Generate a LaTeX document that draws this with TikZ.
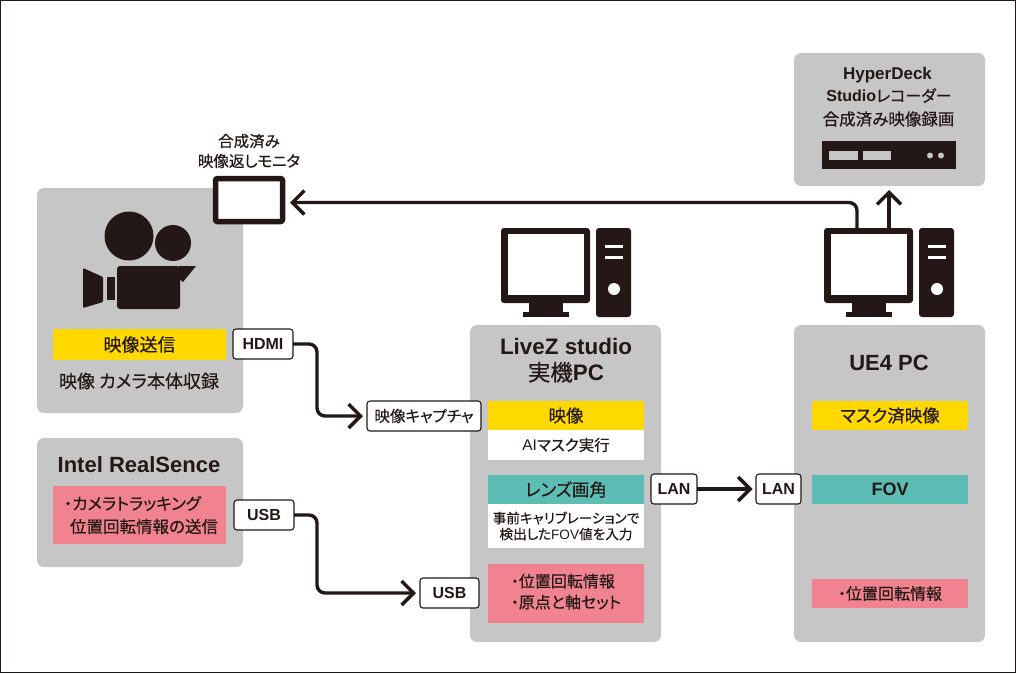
\documentclass[tikz,border=0pt]{standalone}
\usepackage{fontspec}
\usetikzlibrary{arrows.meta}
\setmainfont{Noto Sans CJK JP}[FakeBold=0.35,RawFeature=+palt]
\newfontfamily\latfont{Liberation Sans}
\newfontfamily\latbold{Liberation Sans Bold}
\newfontfamily\jpbold{Noto Sans CJK JP}[FakeBold=0.8,RawFeature=+palt]
\newcommand{\lat}[1]{{\latfont #1}}
\newcommand{\latb}[1]{{\latbold #1}}
\definecolor{ink}{HTML}{231815}
\definecolor{panelgray}{HTML}{C6C6C6}
\definecolor{yel}{HTML}{FFD800}
\definecolor{teal2}{HTML}{5CBDB5}
\definecolor{pink2}{HTML}{F0838F}
\tikzset{
  x=1pt,y=-1pt,
  every node/.style={text=ink,inner sep=0pt,outer sep=0pt,align=center},
  panel/.style={fill=panelgray,rounded corners=7pt},
  tag/.style={draw=ink,line width=1.1pt,fill=white,rounded corners=3pt,font=\fontsize{16}{18}\selectfont},
  ink fill/.style={fill=ink,draw=none},
  conn/.style={draw=ink,line width=3.4pt,rounded corners=8pt,-{Straight Barb[length=12pt,width=24pt,line width=3.4pt]}},
}
\newcommand{\bx}[7]{% name, x0,y0,x1,y1, style, text
  \node[#6,minimum width={(#4)-(#2)},minimum height={(#5)-(#3)}] (#1) at ({((#2)+(#4))/2},{((#3)+(#5))/2}) {#7};}
\newcommand{\pcicon}[2]{% name prefix, x offset
  \begin{scope}[xshift=#2]
    \node[ink fill,rounded corners=3pt,minimum width=89pt,minimum height=75pt] (#1mon) at (868.5,265.5) {};
    \node[fill=white,minimum width=76pt,minimum height=61pt] (#1scr) at (869,264.5) {};
    \fill[ink] (852,302) rectangle (886,313);
    \fill[ink] (846,312) rectangle (892,317);
    \node[ink fill,rounded corners=3pt,minimum width=35pt,minimum height=89pt] (#1tow) at (936.5,272.5) {};
    \fill[white] (928,244.5) rectangle (946,248);
    \fill[white] (928,255.5) rectangle (946,259);
    \fill[white] (937,289) circle (6);
  \end{scope}}
\begin{document}
\begin{tikzpicture}
\useasboundingbox (0,0) rectangle (1016,673);
\fill[white] (0,0) rectangle (1016,673);
\draw[ink,line width=1.2pt] (0.5,0.5) rectangle (1015.5,672.5);

% panels
\bx{camP}{37}{188}{243}{413}{panel}{}
\bx{intP}{37}{438}{243}{567}{panel}{}
\bx{livP}{470}{325}{661}{642}{panel}{}
\bx{ue4P}{794}{325}{985}{642}{panel}{}
\bx{hypP}{794}{53}{985}{186}{panel}{}

% camera
\fill[ink] (129,236) circle (24.5);
\fill[ink] (173,243) circle (18);
\fill[ink,rounded corners=3pt] (117,266) rectangle (180,309);
\fill[ink] (107,277) rectangle (115,300);
\fill[ink,rounded corners=1pt] (83,268) -- (103,277) -- (103,302) -- (83,308) -- cycle;
\fill[ink] (179,266) -- (196,266) -- (183,282) -- (179,279) -- cycle;
\bx{camY}{53}{329}{226}{360}{fill=yel,font=\fontsize{18}{20}\selectfont}{映像送信}
\node[font=\fontsize{18}{20}\selectfont] (camT) at (139,381) {映像 カメラ本体収録};

% return monitor
\node[font=\fontsize{15.5}{20}\selectfont] (retT) at (249,151) {合成済み\\映像返しモニタ};
\node[draw=ink,fill=white,line width=5.5pt,rounded corners=2pt,minimum width=67pt,minimum height=43pt] (retmon) at (249,200) {};

% Intel
\node[font=\fontsize{22}{24}\selectfont] (intT) at (139,465) {\latb{Intel RealSence}};
\bx{intR}{53}{486}{226}{544}{fill=pink2}{}
\node[font=\fontsize{16.5}{23}\selectfont,align=left] (intRT) at (141,515) {・カメラトラッキング\\\hspace*{6pt}位置回転情報の送信};

% LiveZ
\pcicon{a}{-323pt}
\node[font=\fontsize{22.4}{26}\selectfont] (livT) at (566,360.5) {\latb{LiveZ studio}\\{\jpbold 実機}\latb{PC}};
\bx{livY}{488}{401}{644}{430}{fill=yel,font=\fontsize{17.5}{20}\selectfont}{映像}
\bx{livW1}{488}{430}{644}{460}{fill=white,font=\fontsize{15.5}{20}\selectfont}{\lat{AI}マスク実行}
\bx{livT2}{488}{475}{644}{504}{fill=teal2,font=\fontsize{17.5}{20}\selectfont}{レンズ画角}
\bx{livW2}{488}{504}{644}{548}{fill=white,font=\fontsize{13.6}{16}\selectfont}{事前キャリブレーションで\\検出した\lat{FOV}値を入力}
\bx{livR}{488}{564}{644}{623}{fill=pink2,font=\fontsize{16}{21}\selectfont}{\begin{tabular}{@{}l@{}}・位置回転情報\\・原点と軸セット\end{tabular}}

% UE4
\pcicon{b}{0pt}
\node[font=\fontsize{22}{24}\selectfont] (ueT) at (889,362.5) {\latb{UE4 PC}};
\bx{ueY}{812}{401}{968}{430}{fill=yel,font=\fontsize{17.5}{20}\selectfont}{マスク済映像}
\bx{ueC}{812}{475}{968}{504}{fill=teal2,font=\fontsize{18}{20}\selectfont}{\latb{FOV}}
\bx{ueR}{812}{579}{968}{608}{fill=pink2,font=\fontsize{16}{20}\selectfont}{・位置回転情報}

% HyperDeck
\node[font=\fontsize{17}{20}\selectfont] (hyp1) at (887.5,75) {\latb{HyperDeck}};
\node[font=\fontsize{16}{20}\selectfont] (hyp2) at (889,95.5) {\latb{Studio}レコーダー};
\node[font=\fontsize{16.5}{20}\selectfont] (hyp3) at (888.5,119) {合成済み映像録画};
\bx{deck}{822}{141}{956}{169}{fill=ink}{}
\fill[panelgray] (829,151) rectangle (858,160);
\fill[panelgray] (863,151) rectangle (891,160);
\fill[panelgray] (930,155.5) circle (3);
\fill[panelgray] (941,155.5) circle (3);

% tags
\bx{hdmi}{233}{329}{293}{359}{tag}{\latb{HDMI}}
\bx{usbL}{234}{500}{294}{530}{tag}{\latb{USB}}
\bx{cap}{367}{401}{481}{431}{tag,font=\fontsize{15.5}{18}\selectfont}{映像キャプチャ}
\bx{usbR}{420}{578}{479}{608}{tag}{\latb{USB}}
\bx{lanL}{651}{474}{697}{504}{tag}{\latb{LAN}}
\bx{lanR}{756}{474}{801}{504}{tag}{\latb{LAN}}

% connectors
\coordinate (b1) at (317,380);
\coordinate (b2) at (317,550);
\coordinate (retA) at (857,228.5);
\coordinate (retB) at (290,202.5);
\coordinate (upA) at (889,228.5);
\coordinate (upB) at (889,190);
\draw[conn] (hdmi.east) -| (b1) |- ([xshift=-4pt]cap.west);
\draw[conn] (usbL.east) -| (b2) |- ([xshift=-4pt]usbR.west);
\draw[conn,shorten >=3.5pt] (lanL.east) -- (lanR.west);
\draw[conn] (retA) |- (retB);
\draw[conn] (upA) -- (upB);
\end{tikzpicture}
\end{document}
